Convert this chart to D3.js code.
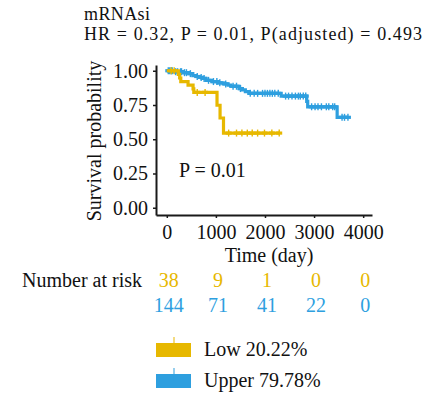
<!DOCTYPE html>
<html>
<head>
<meta charset="utf-8">
<script src="https://cdn.jsdelivr.net/npm/d3@7"></script>
<style>
  body { margin: 0; background: #fff; }
  text { font-family: "Liberation Serif", "DejaVu Serif", serif; fill: #111; }
</style>
</head>
<body>
<div id="chart"></div>
<script>
// survival steps: [time (day), survival]
const lowSteps = [[0, 1], [235, 0.974], [262, 0.947], [285, 0.921], [433, 0.895], [535, 0.868], [550, 0.842], [1023, 0.748], [1085, 0.655], [1155, 0.545]];
const lowEnd = 2290;
const lowCensor = [90, 150, 620, 780, 1260, 1420, 1530, 1640, 1740, 1850, 1990, 2140, 2290];

const upperSteps = [[0, 1], [150, 0.993], [330, 0.986], [450, 0.979], [530, 0.965], [600, 0.958], [660, 0.951], [720, 0.944], [800, 0.93], [920, 0.921], [1050, 0.912], [1150, 0.904], [1250, 0.895], [1300, 0.887], [1480, 0.87], [1540, 0.86], [1600, 0.848], [1680, 0.835], [2330, 0.815], [2850, 0.776], [2870, 0.737], [3470, 0.66]];
const upperEnd = 3690;
const upperCensor = [30, 60, 90, 110, 180, 220, 280, 300, 360, 400, 480, 620, 700, 760, 850, 950, 1020, 1080, 1200, 1350, 1420, 1500, 1700, 1780, 1850, 1950, 2000, 2050, 2100, 2150, 2200, 2270, 2420, 2480, 2550, 2620, 2680, 2720, 2780, 2830, 2950, 3020, 3080, 3150, 3250, 3300, 3380, 3420, 3570, 3620, 3690];

const timeTicks = [0, 1000, 2000, 3000, 4000];
const survTicks = [0, 0.25, 0.5, 0.75, 1];
const riskLow = [38, 9, 1, 0, 0];
const riskUpper = [144, 71, 41, 22, 0];
const groups = ["Low 20.22%", "Upper 79.78%"];
const colors = ["#E7B800", "#2E9FDF"];

const width = 427, height = 396;
const fs = "20px";

const svg = d3.select("#chart").append("svg")
  .attr("width", width).attr("height", height);

const x = d3.scaleLinear().domain([-220, 4180]).range([156, 372]);
const y = d3.scaleLinear().domain([-0.053, 1.042]).range([215, 65]);

// titles
svg.append("text").attr("x", 84).attr("y", 20).style("font-size", "18px")
  .attr("textLength", 66).attr("lengthAdjust", "spacing").text("mRNAsi");
svg.append("text").attr("x", 84).attr("y", 40).style("font-size", "18px")
  .attr("textLength", 338).attr("lengthAdjust", "spacing")
  .text("HR = 0.32, P = 0.01, P(adjusted) = 0.493");

// axes
const yAxis = d3.axisLeft(y).tickValues(survTicks).tickFormat(d3.format(".2f"))
  .tickSize(3).tickSizeOuter(0).tickPadding(5);
const gy = svg.append("g").attr("transform", "translate(156,0)").call(yAxis);

const xAxis = d3.axisBottom(x).tickValues(timeTicks).tickFormat(d3.format("d"))
  .tickSize(3).tickSizeOuter(0).tickPadding(7);
const gx = svg.append("g").attr("transform", "translate(0,215)").call(xAxis);

[gx, gy].forEach(g => {
  g.select(".domain").attr("stroke", "#1a1a1a").attr("stroke-width", 2);
  g.selectAll(".tick line").attr("stroke", "#1a1a1a").attr("stroke-width", 1.5);
  g.selectAll("text").style("font-size", fs).style("font-family", "Liberation Serif").attr("fill", "#111");
});

svg.append("text").attr("transform", "translate(101,141) rotate(-90)")
  .attr("text-anchor", "middle").style("font-size", fs).text("Survival probability");
svg.append("text").attr("x", 269).attr("y", 262)
  .attr("text-anchor", "middle").style("font-size", fs).text("Time (day)");

// KM curves
const line = d3.line().x(d => x(d[0])).y(d => y(d[1])).curve(d3.curveStepAfter);
function survAt(steps, t) {
  let s = 1;
  steps.forEach(d => { if (d[0] <= t) s = d[1]; });
  return s;
}
const curves = [
  { steps: lowSteps, end: lowEnd, censor: lowCensor, color: colors[0] },
  { steps: upperSteps, end: upperEnd, censor: upperCensor, color: colors[1] }
];
// draw upper first, low on top
[curves[1], curves[0]].forEach(c => {
  const pts = c.steps.concat([[c.end, c.steps[c.steps.length - 1][1]]]);
  svg.append("path").datum(pts)
    .attr("d", line)
    .attr("fill", "none")
    .attr("stroke", c.color)
    .attr("stroke-width", 3.2);
  const g = svg.append("g");
  g.selectAll("line.v").data(c.censor).join("line")
    .attr("x1", d => x(d)).attr("x2", d => x(d))
    .attr("y1", d => y(survAt(c.steps, d)) - 3.5)
    .attr("y2", d => y(survAt(c.steps, d)) + 3.5)
    .attr("stroke", c.color).attr("stroke-width", 1.4);
  g.selectAll("line.h").data(c.censor).join("line")
    .attr("x1", d => x(d) - 3).attr("x2", d => x(d) + 3)
    .attr("y1", d => y(survAt(c.steps, d)))
    .attr("y2", d => y(survAt(c.steps, d)))
    .attr("stroke", c.color).attr("stroke-width", 3.2);
});

svg.append("text").attr("x", 179).attr("y", 177).style("font-size", fs).text("P = 0.01");

// risk table
svg.append("text").attr("x", 142).attr("y", 287).attr("text-anchor", "end")
  .style("font-size", fs).text("Number at risk");
[riskLow, riskUpper].forEach((row, i) => {
  svg.append("g").selectAll("text").data(row).join("text")
    .attr("x", (d, j) => x(timeTicks[j]) + 2)
    .attr("y", 287 + i * 24.5)
    .attr("text-anchor", "middle")
    .style("font-size", fs)
    .style("fill", colors[i])
    .text(d => d);
});

// legend
const leg = svg.append("g").selectAll("g").data(groups).join("g")
  .attr("transform", (d, i) => `translate(156,${343 + i * 31})`);
leg.append("rect").attr("width", 35).attr("height", 14).attr("fill", (d, i) => colors[i]);
leg.append("line").attr("x1", 18).attr("x2", 18).attr("y1", -6).attr("y2", 7)
  .attr("stroke", (d, i) => colors[i]).attr("stroke-width", 1.4).attr("opacity", 0.7);
leg.append("text").attr("x", 48).attr("y", 12.5).style("font-size", fs).text(d => d);
</script>
</body>
</html>
